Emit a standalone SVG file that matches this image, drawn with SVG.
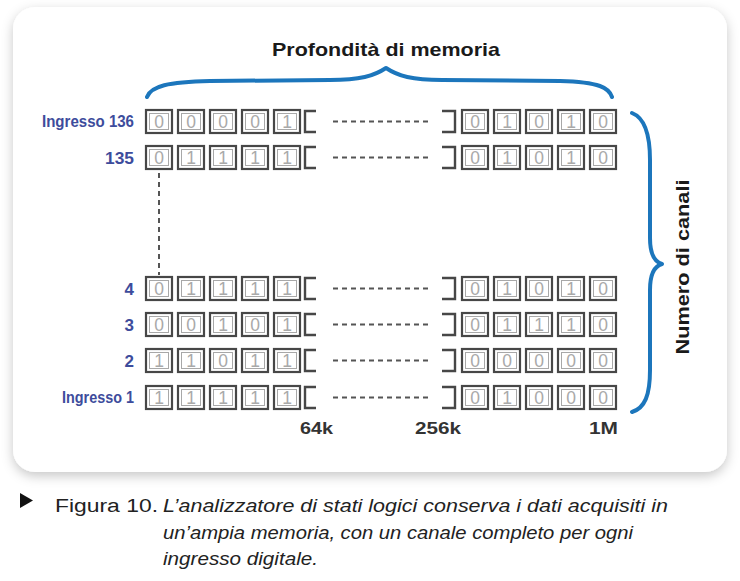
<svg xmlns="http://www.w3.org/2000/svg" width="740" height="581" viewBox="0 0 740 581">
<defs>
<style>
.cell{fill:#fff;stroke:#474747;stroke-width:2.2}
.inner{fill:none;stroke:#a8a8a8;stroke-width:1}
.dg{font-family:"Liberation Sans",Arial,sans-serif;font-size:17.5px;fill:#a9a9a9;text-anchor:middle}
.lbl{font-family:"Liberation Sans",Arial,sans-serif;font-weight:bold;font-size:17px;fill:#3d4c9c;text-anchor:end}
.brk{fill:none;stroke:#474747;stroke-width:2.4}
.dash{fill:none;stroke:#555;stroke-width:2;stroke-dasharray:5 4}
.axis{font-family:"Liberation Sans",Arial,sans-serif;font-weight:bold;font-size:17px;fill:#333}
.brace{fill:none;stroke:#1c76bc;stroke-width:4;stroke-linecap:round;stroke-linejoin:round}
.cap{font-family:"Liberation Sans",Arial,sans-serif;font-size:18px;fill:#222}
</style>
<filter id="sh" x="-10%" y="-10%" width="120%" height="125%">
<feDropShadow dx="0" dy="4" stdDeviation="6" flood-color="#000" flood-opacity="0.22"/>
</filter>
<g id="cellL">
<rect class="cell" x="0" y="0" width="26" height="23"/>
<rect class="inner" x="3.5" y="3.5" width="19" height="16"/>
</g>
</defs>
<rect x="0" y="0" width="740" height="581" fill="#fff"/>
<rect x="13" y="7" width="714" height="465" rx="22" fill="#fff" filter="url(#sh)"/>

<text x="386" y="56" font-family="Liberation Sans,Arial,sans-serif" font-weight="bold" font-size="19" fill="#1a1a1a" text-anchor="middle" textLength="228" lengthAdjust="spacingAndGlyphs">Profondità di memoria</text>

<g id="braces">
<path class="brace" d="M147,97 C151,86 168,82 210,81 L330,80 C360,80 374,76 386,68 C398,76 412,80 442,80 L560,81 C600,82 609,88 612,97"/>
<path class="brace" d="M632,113 C645,118 650,135 650,160 L650,238 C650,255 655,262 662,264 C655,266 650,273 650,290 L650,370 C650,395 645,408 632,412"/>
</g>
<text transform="translate(689,267) rotate(-90)" font-family="Liberation Sans,Arial,sans-serif" font-weight="bold" font-size="19" fill="#1a1a1a" text-anchor="middle" textLength="175" lengthAdjust="spacingAndGlyphs">Numero di canali</text>

<g id="connectors">
<line class="dash" x1="159" y1="173" x2="159" y2="275" stroke-dasharray="3 4"/>
</g>

<g id="row136" transform="translate(0,110)">
<text class="lbl" x="134" y="17" font-size="15.5" textLength="92" lengthAdjust="spacingAndGlyphs">Ingresso 136</text>
<use href="#cellL" x="146"/><use href="#cellL" x="178"/><use href="#cellL" x="210"/><use href="#cellL" x="242"/><use href="#cellL" x="274"/>
<text class="dg" y="18"><tspan x="159">0</tspan><tspan x="191">0</tspan><tspan x="223">0</tspan><tspan x="255">0</tspan><tspan x="287">1</tspan></text>
<path class="brk" d="M316,1 H305 V22 H316"/>
<line class="dash" x1="333" y1="11.5" x2="428" y2="11.5"/>
<path class="brk" d="M442,1 H455 V22 H442"/>
<use href="#cellL" x="462"/><use href="#cellL" x="494"/><use href="#cellL" x="526"/><use href="#cellL" x="558"/><use href="#cellL" x="590"/>
<text class="dg" y="18"><tspan x="475">0</tspan><tspan x="507">1</tspan><tspan x="539">0</tspan><tspan x="571">1</tspan><tspan x="603">0</tspan></text>
</g>

<g id="row135" transform="translate(0,146)">
<text class="lbl" x="134" y="18" textLength="29" lengthAdjust="spacingAndGlyphs">135</text>
<use href="#cellL" x="146"/><use href="#cellL" x="178"/><use href="#cellL" x="210"/><use href="#cellL" x="242"/><use href="#cellL" x="274"/>
<text class="dg" y="18"><tspan x="159">0</tspan><tspan x="191">1</tspan><tspan x="223">1</tspan><tspan x="255">1</tspan><tspan x="287">1</tspan></text>
<path class="brk" d="M316,1 H305 V22 H316"/>
<line class="dash" x1="333" y1="11.5" x2="428" y2="11.5"/>
<path class="brk" d="M442,1 H455 V22 H442"/>
<use href="#cellL" x="462"/><use href="#cellL" x="494"/><use href="#cellL" x="526"/><use href="#cellL" x="558"/><use href="#cellL" x="590"/>
<text class="dg" y="18"><tspan x="475">0</tspan><tspan x="507">1</tspan><tspan x="539">0</tspan><tspan x="571">1</tspan><tspan x="603">0</tspan></text>
</g>

<g id="row4" transform="translate(0,277)">
<text class="lbl" x="134" y="18">4</text>
<use href="#cellL" x="146"/><use href="#cellL" x="178"/><use href="#cellL" x="210"/><use href="#cellL" x="242"/><use href="#cellL" x="274"/>
<text class="dg" y="18"><tspan x="159">0</tspan><tspan x="191">1</tspan><tspan x="223">1</tspan><tspan x="255">1</tspan><tspan x="287">1</tspan></text>
<path class="brk" d="M316,1 H305 V22 H316"/>
<line class="dash" x1="333" y1="11.5" x2="428" y2="11.5"/>
<path class="brk" d="M442,1 H455 V22 H442"/>
<use href="#cellL" x="462"/><use href="#cellL" x="494"/><use href="#cellL" x="526"/><use href="#cellL" x="558"/><use href="#cellL" x="590"/>
<text class="dg" y="18"><tspan x="475">0</tspan><tspan x="507">1</tspan><tspan x="539">0</tspan><tspan x="571">1</tspan><tspan x="603">0</tspan></text>
</g>

<g id="row3" transform="translate(0,313)">
<text class="lbl" x="134" y="18">3</text>
<use href="#cellL" x="146"/><use href="#cellL" x="178"/><use href="#cellL" x="210"/><use href="#cellL" x="242"/><use href="#cellL" x="274"/>
<text class="dg" y="18"><tspan x="159">0</tspan><tspan x="191">0</tspan><tspan x="223">1</tspan><tspan x="255">0</tspan><tspan x="287">1</tspan></text>
<path class="brk" d="M316,1 H305 V22 H316"/>
<line class="dash" x1="333" y1="11.5" x2="428" y2="11.5"/>
<path class="brk" d="M442,1 H455 V22 H442"/>
<use href="#cellL" x="462"/><use href="#cellL" x="494"/><use href="#cellL" x="526"/><use href="#cellL" x="558"/><use href="#cellL" x="590"/>
<text class="dg" y="18"><tspan x="475">0</tspan><tspan x="507">1</tspan><tspan x="539">1</tspan><tspan x="571">1</tspan><tspan x="603">0</tspan></text>
</g>

<g id="row2" transform="translate(0,349)">
<text class="lbl" x="134" y="18">2</text>
<use href="#cellL" x="146"/><use href="#cellL" x="178"/><use href="#cellL" x="210"/><use href="#cellL" x="242"/><use href="#cellL" x="274"/>
<text class="dg" y="18"><tspan x="159">1</tspan><tspan x="191">1</tspan><tspan x="223">0</tspan><tspan x="255">1</tspan><tspan x="287">1</tspan></text>
<path class="brk" d="M316,1 H305 V22 H316"/>
<line class="dash" x1="333" y1="11.5" x2="428" y2="11.5"/>
<path class="brk" d="M442,1 H455 V22 H442"/>
<use href="#cellL" x="462"/><use href="#cellL" x="494"/><use href="#cellL" x="526"/><use href="#cellL" x="558"/><use href="#cellL" x="590"/>
<text class="dg" y="18"><tspan x="475">0</tspan><tspan x="507">0</tspan><tspan x="539">0</tspan><tspan x="571">0</tspan><tspan x="603">0</tspan></text>
</g>

<g id="row1" transform="translate(0,386)">
<text class="lbl" x="134" y="17" font-size="15.5" textLength="72" lengthAdjust="spacingAndGlyphs">Ingresso 1</text>
<use href="#cellL" x="146"/><use href="#cellL" x="178"/><use href="#cellL" x="210"/><use href="#cellL" x="242"/><use href="#cellL" x="274"/>
<text class="dg" y="18"><tspan x="159">1</tspan><tspan x="191">1</tspan><tspan x="223">1</tspan><tspan x="255">1</tspan><tspan x="287">1</tspan></text>
<path class="brk" d="M316,1 H305 V22 H316"/>
<line class="dash" x1="333" y1="11.5" x2="428" y2="11.5"/>
<path class="brk" d="M442,1 H455 V22 H442"/>
<use href="#cellL" x="462"/><use href="#cellL" x="494"/><use href="#cellL" x="526"/><use href="#cellL" x="558"/><use href="#cellL" x="590"/>
<text class="dg" y="18"><tspan x="475">0</tspan><tspan x="507">1</tspan><tspan x="539">0</tspan><tspan x="571">0</tspan><tspan x="603">0</tspan></text>
</g>

<g id="axis">
<text class="axis" x="300" y="434" textLength="33" lengthAdjust="spacingAndGlyphs">64k</text>
<text class="axis" x="415" y="434" textLength="46" lengthAdjust="spacingAndGlyphs">256k</text>
<text class="axis" x="589" y="434" textLength="29" lengthAdjust="spacingAndGlyphs">1M</text>
</g>

<g id="caption">
<path d="M20,493 L33,500.5 L20,508 Z" fill="#111"/>
<text class="cap" x="55" y="512" font-size="20" textLength="103" lengthAdjust="spacingAndGlyphs">Figura 10.</text>
<text class="cap" x="163" y="512" font-style="italic" textLength="505" lengthAdjust="spacingAndGlyphs">L’analizzatore di stati logici conserva i dati acquisiti in</text>
<text class="cap" x="163" y="539" font-style="italic" textLength="470" lengthAdjust="spacingAndGlyphs">un’ampia memoria, con un canale completo per ogni</text>
<text class="cap" x="163" y="565" font-style="italic" textLength="155" lengthAdjust="spacingAndGlyphs">ingresso digitale.</text>
</g>
</svg>
